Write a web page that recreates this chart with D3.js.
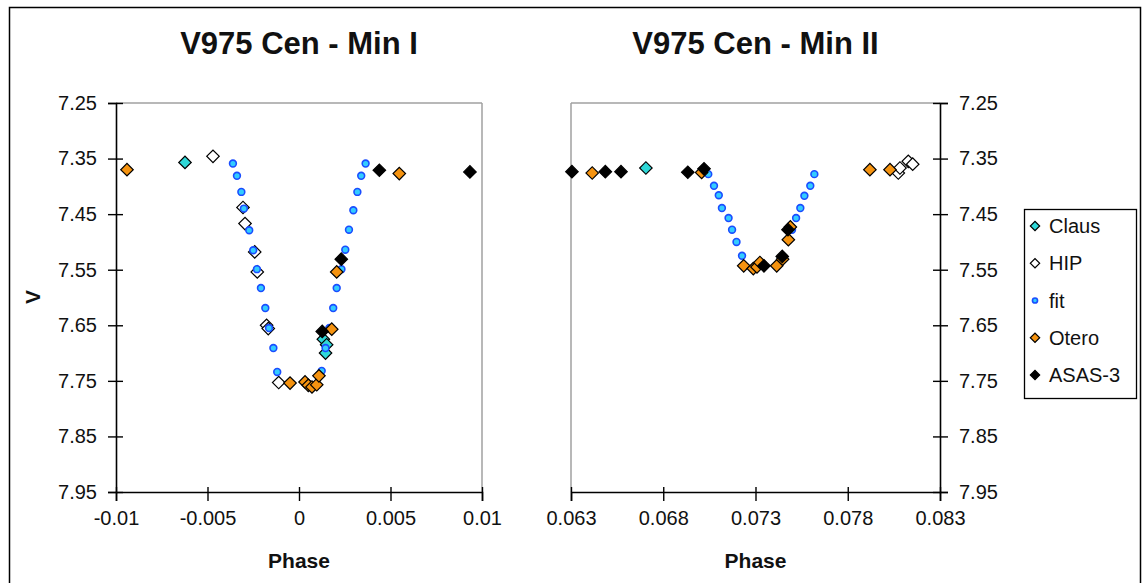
<!DOCTYPE html>
<html><head><meta charset="utf-8">
<script src="https://cdn.jsdelivr.net/npm/d3@7"></script>
<style>
body{margin:0;background:#fff;}
text{font-family:"Liberation Sans",Arial,sans-serif;}
</style></head>
<body><svg id="c" width="1142" height="583"></svg>
<script>
// ---- data: [phase, V] ----
const titles = ["V975 Cen - Min I", "V975 Cen - Min II"];
const seriesNames = ["Claus", "HIP", "fit", "Otero", "ASAS-3"];
const yTicks = [7.25, 7.35, 7.45, 7.55, 7.65, 7.75, 7.85, 7.95];
const xTicks1 = [-0.01, -0.005, 0, 0.005, 0.01];
const xTicks2 = [0.063, 0.068, 0.073, 0.078, 0.083];
const xLabels1 = ["-0.01", "-0.005", "0", "0.005", "0.01"];
const xLabels2 = ["0.063", "0.068", "0.073", "0.078", "0.083"];

const claus1 = [[-0.00623,7.357],[0.00133,7.675],[0.00151,7.685],[0.00145,7.700]];
const hip1 = [[-0.0047,7.346],[-0.00306,7.438],[-0.00295,7.467],[-0.00242,7.518],[-0.00228,7.554],
  [-0.00177,7.650],[-0.00168,7.656],[-0.00111,7.753]];
const fit1 = [[-0.00361,7.359],[-0.00339,7.381],[-0.00315,7.410],[-0.00301,7.440],[-0.00272,7.479],
  [-0.00250,7.515],[-0.00230,7.549],[-0.00208,7.583],[-0.00184,7.619],[-0.00164,7.655],
  [-0.00140,7.691],[-0.00119,7.734],
  [0.00124,7.732],[0.00145,7.691],[0.00166,7.655],[0.00187,7.619],[0.00206,7.583],
  [0.00232,7.549],[0.00253,7.514],[0.00273,7.478],[0.00297,7.443],[0.00319,7.410],
  [0.00340,7.381],[0.00364,7.359]];
const otero1 = [[-0.0094,7.370],[-0.00049,7.754],[0.00033,7.752],[0.00051,7.758],[0.00071,7.761],
  [0.00097,7.757],[0.00109,7.741],[0.00179,7.657],[0.00206,7.554],[0.00548,7.377]];
const asas1 = [[0.00439,7.371],[0.00934,7.374],[0.00231,7.531],[0.00127,7.661]];

const claus2 = [[0.06706,7.367]];
const hip2 = [[0.08074,7.376],[0.08083,7.367],[0.08128,7.355],[0.08152,7.360]];
const fit2 = [[0.07044,7.378],[0.07075,7.399],[0.07101,7.416],[0.07118,7.439],[0.07154,7.457],
  [0.07173,7.478],[0.07197,7.500],[0.07227,7.525],
  [0.07498,7.478],[0.07520,7.457],[0.07543,7.439],[0.07565,7.417],[0.07597,7.399],[0.07619,7.378]];
const otero2 = [[0.06415,7.376],[0.07008,7.375],[0.07236,7.543],[0.07288,7.548],[0.07308,7.545],
  [0.07324,7.537],[0.07415,7.543],[0.07447,7.531],[0.07478,7.496],[0.07489,7.473],
  [0.07920,7.370],[0.08029,7.370]];
const asas2 = [[0.06305,7.3735],[0.06486,7.3735],[0.06571,7.3735],[0.06933,7.3746],[0.07021,7.3685],
  [0.07346,7.543],[0.07445,7.526],[0.07476,7.478]];

// ---- styles ----
const styles = {
  "Claus": {shape:"diamond", fill:"#2fd8d8", stroke:"#000"},
  "HIP": {shape:"diamond", fill:"#fff", stroke:"#000"},
  "fit": {shape:"circle", fill:"#33ccff", stroke:"#1a4dff"},
  "Otero": {shape:"diamond", fill:"#f59310", stroke:"#000"},
  "ASAS-3": {shape:"diamond", fill:"#000", stroke:"#000"}
};

const svg = d3.select("#c");
svg.append("rect").attr("x",9.5).attr("y",7.5).attr("width",1131).attr("height",620)
  .attr("fill","#fff").attr("stroke","#000").attr("stroke-width",1.5);

const y = d3.scaleLinear().domain([7.25, 7.95]).range([103, 492]);

const panels = [
  {title:titles[0], x:d3.scaleLinear().domain([-0.01,0.01]).range([116,482]), ticks:xTicks1, labels:xLabels1,
   data:{"Claus":claus1,"HIP":hip1,"fit":fit1,"Otero":otero1,"ASAS-3":asas1}, side:"left"},
  {title:titles[1], x:d3.scaleLinear().domain([0.063,0.083]).range([571,940]), ticks:xTicks2, labels:xLabels2,
   data:{"Claus":claus2,"HIP":hip2,"fit":fit2,"Otero":otero2,"ASAS-3":asas2}, side:"right"}
];

function drawMarker(g, name, px, py, scale) {
  const s = styles[name];
  if (s.shape === "circle") {
    g.append("circle").attr("cx",px).attr("cy",py).attr("r",3.4*scale)
      .attr("fill",s.fill).attr("stroke",s.stroke).attr("stroke-width",1.6);
  } else {
    g.append("path").attr("d", d3.symbol(d3.symbolSquare, 78*scale*scale)())
      .attr("transform",`translate(${px},${py}) rotate(45)`)
      .attr("fill",s.fill).attr("stroke",s.stroke).attr("stroke-width",1.2);
  }
}

panels.forEach(p => {
  const [x0,x1] = p.x.range();
  const g = svg.append("g");
  g.append("line").attr("x1",x0).attr("x2",x1).attr("y1",103).attr("y2",103).attr("stroke","#a0a0a0").attr("stroke-width",1.5);
  if (p.side==="left") {
    g.append("line").attr("x1",x1).attr("x2",x1).attr("y1",103).attr("y2",492).attr("stroke","#a0a0a0").attr("stroke-width",1.5);
  } else {
    g.append("line").attr("x1",x0).attr("x2",x0).attr("y1",103).attr("y2",492).attr("stroke","#a0a0a0").attr("stroke-width",1.5);
  }
  const yAxis = (p.side==="left" ? d3.axisLeft(y) : d3.axisRight(y))
    .tickValues(yTicks).tickFormat(d3.format(".2f")).tickSize(8).tickPadding(11);
  const ya = g.append("g").attr("transform",`translate(${p.side==="left"?x0:x1},0)`).call(yAxis);
  ya.select(".domain").attr("stroke","#000").attr("stroke-width",1.6);
  ya.selectAll(".tick line").attr("stroke","#000").attr("stroke-width",1.4)
    .attr("x1", p.side==="left"? 7 : -7);
  ya.selectAll(".tick text").attr("font-size",20).attr("fill","#111")
    .attr("font-family","Liberation Sans, Arial, sans-serif");
  const xAxis = d3.axisBottom(p.x).tickValues(p.ticks).tickFormat((d,i)=>p.labels[i]).tickSize(9).tickPadding(10);
  const xa = g.append("g").attr("transform","translate(0,492)").call(xAxis);
  xa.select(".domain").attr("stroke","#000").attr("stroke-width",1.6);
  xa.selectAll(".tick line").attr("stroke","#000").attr("stroke-width",1.4).attr("y1",-5);
  xa.selectAll(".tick text").attr("font-size",20).attr("fill","#111")
    .attr("font-family","Liberation Sans, Arial, sans-serif");
  g.append("text").attr("x",(x0+x1)/2).attr("y",54).attr("text-anchor","middle")
    .attr("font-size",31).attr("font-weight","bold").attr("fill","#111").text(p.title);
  g.append("text").attr("x",(x0+x1)/2).attr("y",568).attr("text-anchor","middle")
    .attr("font-size",21).attr("font-weight","bold").attr("fill","#111").text("Phase");
  const pg = g.append("g");
  seriesNames.forEach(n => {
    p.data[n].forEach(d => drawMarker(pg, n, p.x(d[0]), y(d[1]), 1));
  });
});

svg.append("text").attr("transform","translate(40,297) rotate(-90)").attr("text-anchor","middle")
  .attr("font-size",21).attr("font-weight","bold").attr("fill","#111").text("V");

const lg = svg.append("g");
lg.append("rect").attr("x",1024.5).attr("y",209.5).attr("width",112).attr("height",189)
  .attr("fill","#fff").attr("stroke","#000").attr("stroke-width",1.3);
const legY = d3.scalePoint().domain(seriesNames).range([226,375]);
seriesNames.forEach(n => {
  drawMarker(lg, n, 1035, legY(n), 0.75);
  lg.append("text").attr("x",1049).attr("y",legY(n)).attr("dy","0.36em")
    .attr("font-size",20).attr("fill","#111").text(n);
});
</script></body></html>
